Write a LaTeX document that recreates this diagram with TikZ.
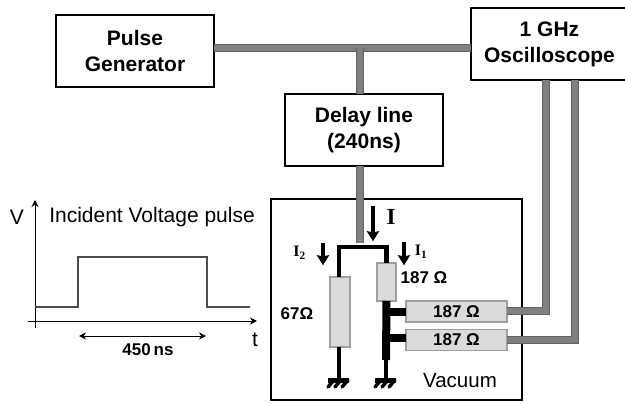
\documentclass[tikz,border=0pt]{standalone}
\usepackage{fontspec}
\setmainfont{Liberation Sans}
\newfontfamily\serifbold{Liberation Serif}[BoldFont={Liberation Serif Bold}]
\usetikzlibrary{arrows.meta}
\usetikzlibrary{positioning}

\begin{document}
\begin{tikzpicture}[
  x=1pt,y=-1pt,
  >={Stealth[length=7pt,width=7pt]},
  block/.style={draw,line width=2pt,rectangle,inner sep=0pt,outer sep=0pt,align=center,font=\fontsize{21}{26}\selectfont\bfseries,minimum height=72pt},
  coax/.style={draw=black!62,line width=1pt,double=black!50,double distance=6pt},
  resist/.style={draw=black!38,fill=black!14,line width=1.5pt,rectangle,inner sep=0pt,outer sep=0pt,font=\fontsize{17}{18}\selectfont\bfseries},
  lead/.style={line width=4.5pt,black},
  fatlead/.style={line width=8pt,black},
  cur/.style={-{Stealth[length=10pt,width=12pt,inset=1pt]},line width=4.5pt,black},
  lab/.style={inner sep=0pt,font=\fontsize{17}{18}\selectfont\bfseries},
  txt/.style={inner sep=0pt,font=\fontsize{21}{22}\selectfont},
  ground/.pic={
    \draw[line width=5pt] (-11,2) -- (10,2);
    \foreach \gx in {-5,2,9}
      \draw[line width=3.5pt,line cap=round] (\gx,2) -- (\gx-6,9);
  }]

  \useasboundingbox (0,0) rectangle (625,404);

  % boxes
  \node [block,minimum width=158pt] (pulse) at (135,51) {Pulse\\Generator};
  \node [block,minimum width=157pt] (scope) at (549.5,44) {1 GHz\\Oscilloscope};
  \node [block,minimum width=158pt] (delay) at (364,130) {Delay line\\(240ns)};
  \node [draw,line width=2pt,rectangle,inner sep=0pt,minimum width=251pt,minimum height=201pt] (vac) at (396.5,299.5) {};

  % resistors
  \node [resist,minimum width=20pt,minimum height=70pt] (rb) at (340,312) {};
  \node [resist,minimum width=19pt,minimum height=38pt] (ra) at (386.5,282) {};
  \node [resist,minimum width=101pt,minimum height=21pt] (rc) at (456.5,311.5) {187 Ω};
  \node [resist,minimum width=101pt,minimum height=21pt] (rd) at (456.5,340) {187 Ω};

  \coordinate (feed) at (360,243);
  \coordinate (top) at (363,247);
  \coordinate (fatend) at (386,360);
  \coordinate (gndb) at (339,378);
  \coordinate (gnda) at (386,378);
  \coordinate (cornera) at (546,310.5);
  \coordinate (cornerb) at (575,340);

  % grey lines
  \draw[coax] (pulse.east |- 0,48) -- (scope.west |- 0,48);
  \draw[coax] (360,48) -- (delay.north -| 360,0);
  \draw[coax] (delay.south -| 360,0) -- (feed);
  \draw[coax] (scope.south -| cornera) -- (cornera) -- (rc.east |- cornera);
  \draw[coax] (scope.south -| cornerb) -- (cornerb) -- (rd.east |- cornerb);

  % black lines
  \draw[lead] (rb.north -| 339,0) |- (top) -| (ra.north);
  \draw[lead] (rb.south -| 339,0) -- (gndb);
  \draw[fatlead] (ra.south) -- (fatend);
  \draw[lead] (fatend) -- (gnda);
  \draw[fatlead] (386,312) -- (rc.west |- 0,312);
  \draw[fatlead] (386,338) -- (rd.west |- 0,338);
  \pic at (gndb) {ground};
  \pic at (gnda) {ground};

  % currents
  \node [inner sep=0pt] (ia) at (373,205) {};
  \node [inner sep=0pt] (iaend) at (373,242) {};
  \node [inner sep=0pt] (ib) at (323,242) {};
  \node [inner sep=0pt] (ibend) at (323,266) {};
  \node [inner sep=0pt] (ic) at (404,241) {};
  \node [inner sep=0pt] (icend) at (404,266) {};
  \draw[cur] (ia) -- (iaend);
  \draw[cur] (ib) -- (ibend);
  \draw[cur] (ic) -- (icend);
  \node [inner sep=0pt,font=\fontsize{23}{24}\serifbold\bfseries] (il) at (391,217) {I};
  \node [inner sep=0pt,font=\fontsize{16}{18}\serifbold\bfseries] (icl) at (421,252) {I\textsubscript{1}};
  \node [inner sep=0pt,font=\fontsize{16}{18}\serifbold\bfseries] (ibl) at (299.5,253) {I\textsubscript{2}};
  \node [lab] (ral) at (424,278) {187 Ω};
  \node [lab] (rbl) at (297,314) {67Ω};
  \node [inner sep=0pt,font=\fontsize{20.5}{22}\selectfont] (vacl) at (460,381) {Vacuum};

  % pulse plot
  \coordinate (vbot) at (35,328);
  \coordinate (vtop) at (35,200);
  \coordinate (tleft) at (28,321);
  \coordinate (tright) at (257,321);
  \draw[->,line width=1pt] (vbot) -- (vtop);
  \draw[->,line width=1pt] (tleft) -- (tright);
  \coordinate (pa) at (35,307);
  \coordinate (pb) at (250,307);
  \draw[black!70,line width=1.3pt] (pa) -- (78,307) -- (78,257) -- (207,257) -- (207,307) -- (pb);
  \coordinate (wa) at (79,336);
  \coordinate (wb) at (206,336);
  \draw[<->,line width=1pt] (wa) -- (wb);
  \node [txt] (vl) at (17,217) {V};
  \node [txt] (il2) at (152,217) {Incident Voltage pulse};
  \node [txt] (tl) at (255,340) {t};
  \node [inner sep=0pt,font=\fontsize{17}{18}\selectfont\bfseries] (wl) at (148,350) {450\,ns};
\end{tikzpicture}
\end{document}
